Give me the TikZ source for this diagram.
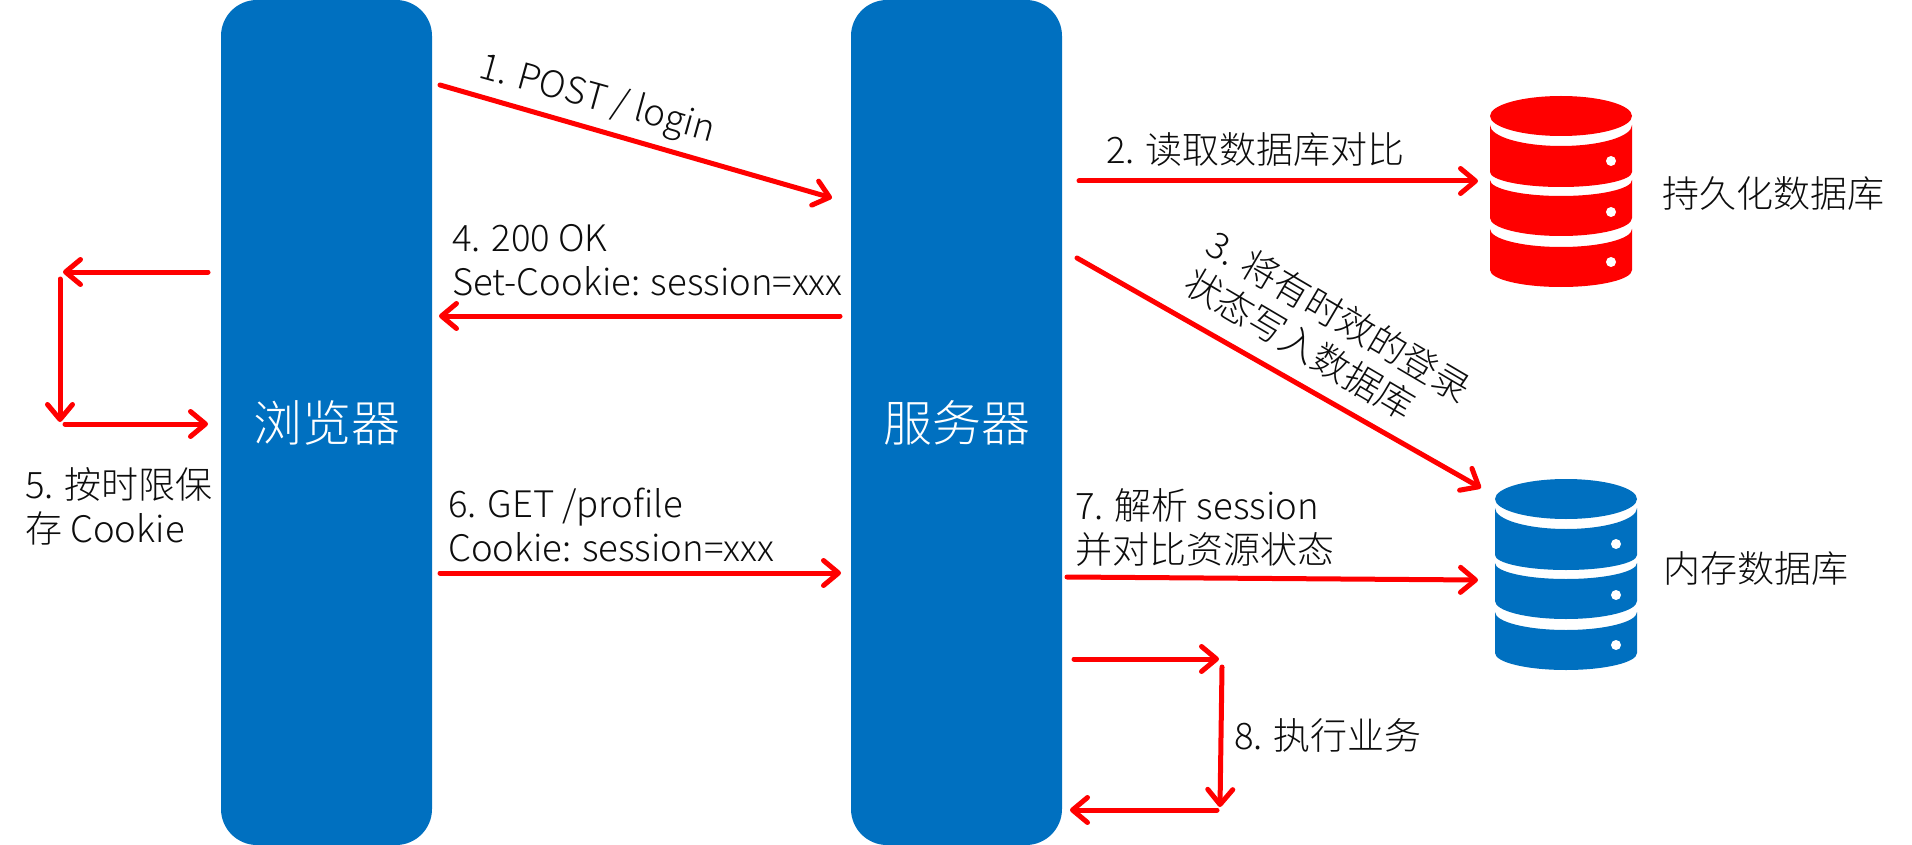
\documentclass[tikz,border=0pt]{standalone}
\usepackage{fontspec}
\setmainfont{Noto Sans CJK SC Light}
\usetikzlibrary{arrows.meta}
\definecolor{boxblue}{HTML}{0070C0}
\definecolor{flowred}{HTML}{FF0000}
\definecolor{inktext}{HTML}{0D0D0D}
\newcommand{\lat}[1]{{\fontsize{36.5}{44}\selectfont #1}}
\tikzset{
  lane/.style={rectangle,rounded corners=36pt,fill=boxblue,text=white,minimum width=211pt,minimum height=845pt,inner sep=0pt,font=\fontsize{49}{56}\selectfont},
  flow/.style={draw=flowred,line width=5pt,line cap=round,-{Straight Barb[length=15pt,width=25pt,line width=5pt,round]}},
  lbl/.style={inner sep=0pt,text=inktext,align=left,font=\fontsize{37}{44}\selectfont},
}
% segment of the database icon: y and bulge of the top arc, y and bulge of the bottom arc
\newcommand{\dbseg}[4]{%
  (0,#1) .. controls (0,#1+0.5523*#2) and (31.8,#1+#2) .. (71,#1+#2)
  .. controls (110.2,#1+#2) and (142,#1+0.5523*#2) .. (142,#1)
  -- (142,#3) .. controls (142,#3+0.5523*#4) and (110.2,#3+#4) .. (71,#3+#4)
  .. controls (31.8,#3+#4) and (0,#3+0.5523*#4) .. (0,#3) -- cycle}
\newcommand{\dbicon}[3]{%
  \begin{scope}[shift={(#1,#2)}]
    \fill[#3] (71,20) ellipse [x radius=71pt,y radius=20pt];
    \fill[#3] \dbseg{29}{21}{76}{15};
    \fill[#3] \dbseg{84}{16}{122}{18};
    \fill[#3] \dbseg{133}{18}{174}{17};
    \fill[white] (121,65) circle [radius=5pt];
    \fill[white] (121,116) circle [radius=5pt];
    \fill[white] (121,166) circle [radius=5pt];
  \end{scope}}
\begin{document}
\begin{tikzpicture}[x=1pt,y=-1pt]
\useasboundingbox (0,0) rectangle (1912,845);
\fill[white] (0,0) rectangle (1912,845);
\node[lane] (browser) at (326.5,422.5) {浏览器};
\node[lane] (server) at (956.5,422.5) {服务器};
\dbicon{1490}{96}{flowred}
\dbicon{1495}{479}{boxblue}
% arrow ends
\coordinate (a1s) at (440,85);   \coordinate (a1e) at (832,198);
\coordinate (a2s) at (1079,181); \coordinate (a2e) at (1478,181);
\coordinate (a3s) at (1077,258); \coordinate (a3e) at (1481,488);
\coordinate (a4s) at (840,316);  \coordinate (a4e) at (439,316);
\coordinate (a5s) at (208,272);  \coordinate (a5e) at (63,272);
\coordinate (a5t) at (60,279);   \coordinate (a5b) at (60,422);
\coordinate (a5c) at (65,424);   \coordinate (a5d) at (208,424);
\coordinate (a6s) at (440,573);  \coordinate (a6e) at (841,573);
\coordinate (a7s) at (1067,577); \coordinate (a7e) at (1478,580);
\coordinate (a8s) at (1074,659); \coordinate (a8e) at (1219,659);
\coordinate (a8t) at (1222,667); \coordinate (a8b) at (1220,807);
\coordinate (a8c) at (1217,810); \coordinate (a8d) at (1070,810);
\draw[flow] (a1s) -- (a1e);
\draw[flow] (a2s) -- (a2e);
\draw[flow] (a3s) -- (a3e);
\draw[flow] (a4s) -- (a4e);
\draw[flow] (a5s) -- (a5e);
\draw[flow] (a5t) -- (a5b);
\draw[flow] (a5c) -- (a5d);
\draw[flow] (a6s) -- (a6e);
\draw[flow] (a7s) -- (a7e);
\draw[flow] (a8s) -- (a8e);
\draw[flow] (a8t) -- (a8b);
\draw[flow] (a8c) -- (a8d);
% labels
\node[lbl,rotate=-15.5] (t1) at (597,100) {\lat{1. POST / login}};
\node[lbl,anchor=west] (t2) at (1106,150) {\lat{2.} 读取数据库对比};
\node[lbl,rotate=-30.5] (t3) at (1328,335) {\lat{3.} 将有时效的登录\\状态写入数据库};
\node[lbl,anchor=west] (t4) at (452,260) {\lat{4. 200 OK}\\\lat{Set-Cookie: session=xxx}};
\node[lbl,anchor=west] (t5) at (25,506) {\lat{5.} 按时限保\\存 \lat{Cookie}};
\node[lbl,anchor=west] (t6) at (448,525) {\lat{6. GET /profile}\\\lat{Cookie: session=xxx}};
\node[lbl,anchor=west] (t7) at (1075,528) {\lat{7.} 解析 \lat{session}\\并对比资源状态};
\node[lbl,anchor=west] (t8) at (1234,735) {\lat{8.} 执行业务};
\node[lbl,anchor=west] (d1) at (1662,194) {持久化数据库};
\node[lbl,anchor=west] (d2) at (1663,569) {内存数据库};
\end{tikzpicture}
\end{document}
